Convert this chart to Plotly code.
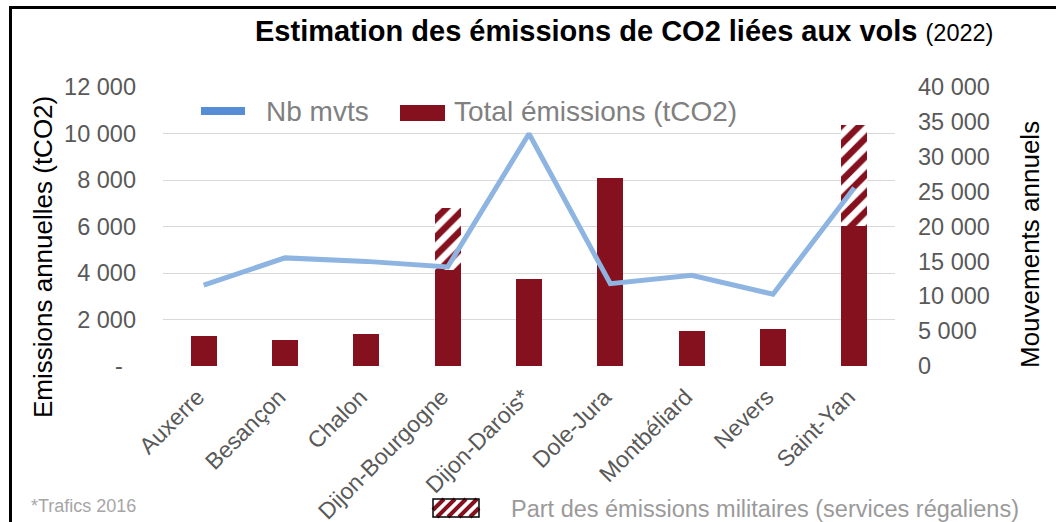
import plotly.graph_objects as go

# ---------------- data ----------------
categories = ["Auxerre", "Besançon", "Chalon", "Dijon-Bourgogne", "Dijon-Darois*",
              "Dole-Jura", "Montbéliard", "Nevers", "Saint-Yan"]
civil_emissions = [1300, 1120, 1380, 4150, 3750, 8080, 1520, 1600, 6030]
military_emissions = [0, 0, 0, 2630, 0, 0, 0, 0, 4340]
mouvements = [11600, 15500, 15000, 14200, 33300, 11800, 13000, 10300, 25550]

left_tickvals = [0, 2000, 4000, 6000, 8000, 10000, 12000]
left_ticktext = ["-\u00a0\u00a0", "2 000", "4 000", "6 000", "8 000", "10 000", "12 000"]
right_tickvals = [0, 5000, 10000, 15000, 20000, 25000, 30000, 35000, 40000]
right_ticktext = ["0", "5 000", "10 000", "15 000", "20 000", "25 000", "30 000", "35 000", "40 000"]

# ---------------- style ----------------
W, H = 1056, 522
L, R, T, B = 163, 895, 87, 366
PW, PH = R - L, B - T
FONT = "Liberation Sans, Arial, sans-serif"
RED = "#85101E"
BLUE = "#8EB4E2"
BLUE_LEG = "#558ED5"
TICK = "#595959"

def px(x):
    return (x - L) / PW

def py(y):
    return (B - y) / PH

fig = go.Figure()
fig.add_trace(go.Bar(x=categories, y=civil_emissions, marker=dict(color=RED, line=dict(width=0)),
                     width=0.32, name="Total émissions (tCO2)", yaxis="y"))
fig.add_trace(go.Bar(x=categories, y=military_emissions,
                     marker=dict(color="white", line=dict(width=0),
                                 pattern=dict(shape="/", fgcolor=RED, bgcolor="white",
                                              fillmode="replace", fgopacity=1,
                                              size=13, solidity=0.5)),
                     width=0.32, name="Part des émissions militaires", yaxis="y"))
fig.add_trace(go.Scatter(x=categories, y=mouvements, mode="lines",
                         line=dict(color=BLUE, width=5), name="Nb mvts", yaxis="y2"))

shapes = []
annotations = []

# outer frame
shapes.append(dict(type="rect", xref="paper", yref="paper",
                   x0=px(10.5), x1=px(1070), y0=py(7.5), y1=py(540),
                   line=dict(color="black", width=3), fillcolor="rgba(0,0,0,0)", layer="above"))

# top legend
shapes.append(dict(type="line", xref="paper", yref="paper",
                   x0=px(201), x1=px(245), y0=py(111), y1=py(111),
                   line=dict(color=BLUE_LEG, width=8)))
annotations.append(dict(text="Nb mvts", xref="paper", yref="paper", x=px(264), y=py(112),
                        xanchor="left", yanchor="middle", showarrow=False,
                        font=dict(family=FONT, size=28, color="#808080")))
shapes.append(dict(type="rect", xref="paper", yref="paper",
                   x0=px(400), x1=px(445), y0=py(121), y1=py(105),
                   line=dict(width=0), fillcolor=RED))
annotations.append(dict(text="Total émissions (tCO2)", xref="paper", yref="paper", x=px(452), y=py(112),
                        xanchor="left", yanchor="middle", showarrow=False,
                        font=dict(family=FONT, size=28, color="#808080")))

# bottom legend (hatched swatch)
x0s, x1s, y0s, y1s = 433, 479, 499, 517
shapes.append(dict(type="rect", xref="paper", yref="paper",
                   x0=px(x0s), x1=px(x1s), y0=py(y1s), y1=py(y0s),
                   line=dict(width=0), fillcolor="white"))
hh = y1s - y0s
period = 11
c = -hh
while c < (x1s - x0s):
    t0 = max(0, -c)
    t1 = min(hh, (x1s - x0s) - c)
    if t1 > t0:
        shapes.append(dict(type="line", xref="paper", yref="paper",
                           x0=px(x0s + c + t0), y0=py(y1s - t0),
                           x1=px(x0s + c + t1), y1=py(y1s - t1),
                           line=dict(color=RED, width=4)))
    c += period
shapes.append(dict(type="rect", xref="paper", yref="paper",
                   x0=px(x0s), x1=px(x1s), y0=py(y1s), y1=py(y0s),
                   line=dict(width=1.5, color="black"), fillcolor="rgba(0,0,0,0)"))
annotations.append(dict(text="Part des émissions militaires (services régaliens)", xref="paper", yref="paper",
                        x=px(509), y=py(509), xanchor="left", yanchor="middle", showarrow=False,
                        font=dict(family=FONT, size=23.5, color="#9a9a9a")))
annotations.append(dict(text="*Trafics 2016", xref="paper", yref="paper",
                        x=px(29), y=py(506), xanchor="left", yanchor="middle", showarrow=False,
                        font=dict(family=FONT, size=18, color="#a6a6a6")))

# axis titles
annotations.append(dict(text="Emissions annuelles (tCO2)", xref="paper", yref="paper",
                        x=px(43), y=py(257), textangle=-90, xanchor="center", yanchor="middle",
                        showarrow=False, font=dict(family=FONT, size=26, color="black")))
annotations.append(dict(text="Mouvements annuels", xref="paper", yref="paper",
                        x=px(1030), y=py(245), textangle=-90, xanchor="center", yanchor="middle",
                        showarrow=False, font=dict(family=FONT, size=26, color="black")))

fig.update_layout(
    width=W, height=H,
    margin=dict(l=L, r=W - R, t=T, b=H - B, pad=0, autoexpand=False),
    paper_bgcolor="white", plot_bgcolor="white",
    barmode="stack",
    showlegend=False,
    font=dict(family=FONT, color=TICK),
    title=dict(text="<b>Estimation des émissions de CO2 liées aux vols</b> "
                    "<span style='font-size:23.5px'>(2022)</span>",
               x=255 / W, xanchor="left", xref="container",
               y=1 - 31 / H, yanchor="middle", yref="container",
               pad=dict(l=0, r=0, t=0, b=0),
               font=dict(family=FONT, size=29, color="black")),
    xaxis=dict(type="category", tickangle=-45, showgrid=False, zeroline=False, showline=False,
               automargin=False,
               tickfont=dict(family=FONT, size=23, color=TICK),
               ticks="", ticklabelstandoff=12, ticklabelshift=-6),
    yaxis=dict(range=[0, 12000], tickvals=left_tickvals, ticktext=left_ticktext, automargin=False,
               showgrid=True, gridcolor="#d9d9d9", gridwidth=1.3, zeroline=False, showline=False,
               tickfont=dict(family=FONT, size=23.5, color=TICK), ticks="", ticklabelstandoff=26),
    yaxis2=dict(range=[0, 40000], tickvals=right_tickvals, ticktext=right_ticktext, automargin=False,
                overlaying="y", side="right", showgrid=False, zeroline=False, showline=False,
                tickfont=dict(family=FONT, size=23.5, color=TICK), ticks="", ticklabelstandoff=22),
    shapes=shapes,
    annotations=annotations,
)

fig.write_html("out.html", config={"displayModeBar": False},
               post_script="document.body.style.margin='0';document.body.style.overflow='hidden';")
